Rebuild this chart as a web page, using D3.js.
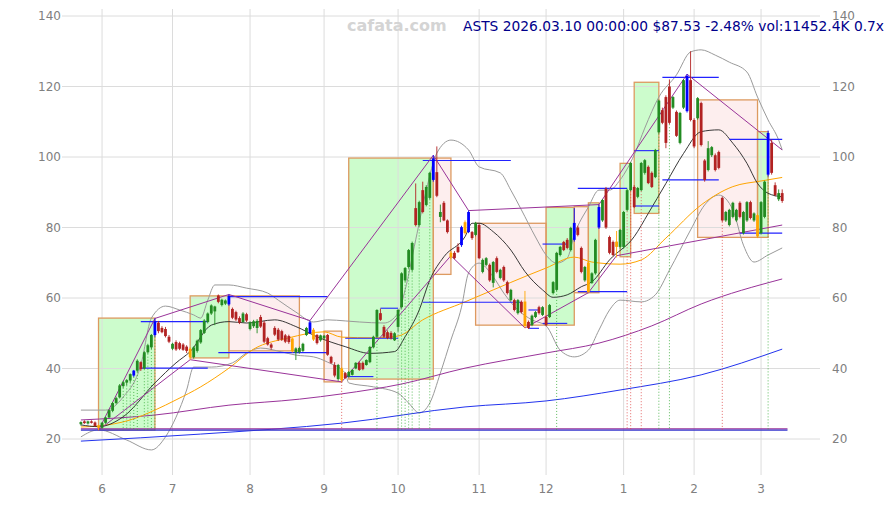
<!DOCTYPE html>
<html>
<head>
<meta charset="utf-8">
<script src="https://cdnjs.cloudflare.com/ajax/libs/d3/7.8.5/d3.min.js"></script>
<style>
  body { margin: 0; background: #fff; }
  svg { display: block; font-family: "DejaVu Sans", sans-serif; }
</style>
</head>
<body>
<div id="chart"></div>
<script>
// daily candles, 2025-05-22 .. 2026-03-10 : [open, high, low, close]
var ohlc = [
  [24.2,25.0,23.8,24.8],[25.0,25.3,24.3,24.5],[24.4,25.2,24.1,25.0],[25.0,25.3,24.4,24.6],[24.7,25.0,23.5,23.7],
  [23.8,24.0,22.5,23.2],[23.2,24.8,22.9,24.6],[24.6,26.3,24.3,26.1],[26.1,28.4,25.9,28.2],[28.0,30.5,27.6,30.2],
  [30.2,32.0,29.8,31.6],[31.8,35.6,31.5,35.2],[35.0,36.5,34.5,36.1],[36.0,37.0,35.2,36.7],[36.6,38.6,36.0,38.4],
  [38.0,39.6,37.6,39.4],[39.4,42.6,39.0,42.2],[41.8,42.0,39.3,39.8],[40.0,44.9,39.8,44.6],[44.6,47.0,44.2,46.6],
  [46.0,49.8,45.5,49.5],[49.5,54.2,49.0,53.3],[53.0,53.5,50.0,50.6],[51.5,52.0,50.0,50.3],[51.2,51.8,48.8,49.2],
  [49.0,49.5,47.2,47.6],[45.6,47.3,45.2,47.0],[47.5,48.0,45.0,45.4],[47.2,47.6,45.2,45.6],[46.8,47.2,45.0,45.3],
  [46.2,46.6,44.4,45.0],[45.6,46.0,42.5,43.2],[43.2,46.3,42.8,46.0],[45.0,48.2,44.5,47.9],[47.4,51.2,47.0,50.9],
  [50.1,54.0,49.8,53.6],[53.2,55.9,52.8,55.6],[55.6,58.2,55.2,57.9],[56.2,57.8,52.3,57.6],[60.7,61.0,58.5,58.9],
  [58.0,59.8,57.6,59.5],[58.4,59.6,58.0,59.3],[58.2,61.0,57.8,60.6],[56.9,57.3,54.0,54.4],[56.0,56.4,53.5,53.9],
  [54.3,54.8,52.6,53.0],[53.2,56.0,53.0,55.6],[55.4,55.8,53.2,53.6],[51.2,53.4,50.8,53.1],[52.0,53.8,51.5,53.4],
  [51.5,54.0,50.0,53.5],[54.6,55.2,51.5,51.9],[53.0,53.5,47.2,47.6],[48.6,49.0,46.5,46.8],[46.8,47.2,45.3,45.9],
  [51.5,52.0,49.2,49.6],[51.0,51.5,47.8,48.2],[50.6,51.0,47.8,48.2],[49.4,49.8,47.2,47.6],[49.2,49.6,47.0,47.5],
  [48.5,48.8,44.5,44.9],[44.5,46.0,42.4,45.7],[44.6,46.2,44.2,45.8],[45.0,47.3,44.7,47.0],[49.5,51.8,49.2,51.5],
  [50.0,53.6,49.8,53.1],[51.0,51.5,47.8,48.2],[49.5,49.8,46.8,47.2],[48.0,49.6,47.6,49.4],[48.6,49.5,48.3,49.3],
  [49.5,49.8,43.6,43.9],[43.3,43.6,41.3,41.6],[41.0,41.8,37.5,38.0],[37.0,41.3,36.5,41.0],[40.0,40.4,36.2,36.7],
  [38.7,39.0,37.0,37.3],[37.7,39.3,37.5,39.0],[38.2,39.8,38.0,39.6],[40.0,41.8,39.8,41.6],[41.6,42.0,39.3,39.6],
  [41.6,42.0,39.5,39.8],[41.0,42.6,40.8,42.4],[41.8,46.4,41.5,46.1],[46.0,49.3,45.7,49.0],[49.0,56.8,48.7,56.6],
  [55.7,57.0,53.5,53.8],[51.8,52.3,48.7,49.0],[50.3,50.8,48.3,48.6],[50.1,50.6,48.2,48.5],[48.0,50.3,47.8,50.0],
  [51.8,56.9,50.5,56.6],[57.4,67.3,57.0,67.0],[65.0,68.8,64.6,68.5],[68.8,73.9,68.4,73.6],[68.0,76.0,67.5,75.6],
  [85.5,92.5,80.3,80.7],[80.7,87.6,80.3,87.2],[90.6,93.0,84.0,84.4],[86.4,92.0,86.0,91.5],[88.4,95.8,88.0,95.5],
  [93.5,100.5,93.0,99.6],[95.7,103.0,88.6,89.0],[83.0,86.5,81.5,84.4],[87.0,87.5,81.8,82.0],[82.0,82.3,78.3,78.7],
  [72.8,73.3,71.0,71.5],[72.8,73.3,71.0,71.3],[74.5,75.5,72.8,73.0],[75.0,80.5,74.5,80.1],[81.5,82.0,78.0,78.4],
  [78.7,84.8,78.4,84.4],[78.7,79.0,76.5,77.0],[77.9,81.6,77.5,81.3],[80.7,81.0,71.0,71.3],[67.4,71.2,67.0,70.8],
  [69.4,71.6,69.0,71.3],[69.4,69.8,64.6,65.0],[64.3,70.5,63.0,70.2],[71.3,71.8,67.0,67.4],[65.7,68.3,65.3,68.0],
  [68.8,69.2,64.6,65.0],[64.5,64.9,61.0,61.4],[59.4,62.6,59.0,62.3],[59.4,59.8,56.2,56.6],[55.7,59.7,55.3,59.4],
  [58.9,59.3,55.6,56.0],[59.0,62.0,51.5,52.0],[53.2,53.6,51.2,51.5],[52.3,55.3,52.0,55.0],[54.6,56.3,54.3,56.0],
  [57.4,57.8,55.3,55.7],[55.2,57.7,54.9,57.4],[54.6,55.0,52.0,52.3],[54.6,58.3,54.3,58.0],[61.4,64.8,61.0,64.5],
  [62.3,73.1,62.0,72.8],[72.2,74.8,71.8,74.5],[75.9,76.2,73.3,73.6],[76.5,77.0,73.8,74.2],[73.6,80.2,73.2,79.9],
  [76.5,85.5,76.0,81.3],[80.0,80.5,77.5,77.9],[74.2,74.6,67.0,67.4],[65.0,69.1,64.6,68.8],[70.0,70.5,61.5,61.7],
  [64.3,67.3,64.0,67.0],[67.0,76.8,66.6,76.5],[80.0,86.5,79.6,85.8],[82.0,88.1,81.6,87.8],[91.0,91.5,79.6,80.0],
  [77.3,77.7,72.4,72.8],[75.9,76.3,71.8,72.2],[76.0,79.0,71.5,74.5],[74.5,79.6,74.0,79.3],[74.5,84.7,74.0,84.4],
  [85.0,91.0,84.6,90.6],[90.6,98.6,90.3,98.3],[91.5,92.0,85.5,85.8],[88.7,91.5,88.3,91.2],[90.6,98.6,90.3,98.3],
  [95.5,99.4,95.0,99.1],[97.2,97.6,92.3,92.6],[95.5,95.9,91.2,91.5],[94.3,102.3,94.0,102.0],[107.0,116.3,106.6,116.0],
  [113.3,114.0,109.3,109.7],[117.0,117.5,102.5,104.0],[120.0,122.0,109.3,109.7],[114.0,117.3,113.6,117.0],[112.8,113.2,105.7,106.0],
  [104.0,112.8,103.6,112.5],[114.0,122.1,113.6,121.8],[113.0,123.5,112.6,123.0],[121.8,130.0,110.1,110.5],[110.5,111.0,102.5,103.0],
  [111.0,117.0,110.6,116.7],[115.3,115.7,103.0,103.4],[99.0,99.4,93.0,93.5],[96.3,104.5,95.9,102.5],[100.5,103.1,100.0,102.8],
  [100.5,101.0,95.9,96.3],[101.4,101.8,96.5,96.9],[88.4,88.8,81.6,82.0],[82.0,84.7,81.6,84.4],[80.7,85.3,80.3,85.0],
  [83.0,87.3,82.6,87.0],[82.0,85.3,81.6,85.0],[87.0,87.4,82.6,83.0],[78.4,84.7,78.0,84.4],[82.0,87.5,81.6,87.2],
  [87.2,87.6,82.3,82.7],[82.0,84.3,81.6,84.0],[83.5,84.0,77.0,77.5],[78.4,87.5,78.0,87.2],[83.0,93.3,82.6,93.0],
  [95.0,107.5,94.5,106.8],[104.0,105.0,95.0,95.5],[92.0,92.8,88.8,89.2],[88.0,90.8,87.5,89.76],[89.76,90.8,87.0,87.53]
];

// pivot candles drawn in blue (highs) and orange (lows)
var pivotHigh = [15, 21, 42, 65, 100, 108, 110, 140, 147, 172, 195];
var pivotLow = [5, 31, 60, 66, 74, 105, 109, 126, 144, 152, 192];

// month ticks (index of first trading day) and labels
var monthIdx = [6, 26, 48, 69, 90, 113, 132, 154, 174, 193];
var monthLabels = ["6", "7", "8", "9", "10", "11", "12", "1", "2", "3"];
var priceTicks = [20, 40, 60, 80, 100, 120, 140];

// moving averages / bands: [index, value]
var ma20 = [[0,24.0],[5,23.5],[12,26.3],[21,35.9],[27,41.6],[31,44.8],[37,52.3],[42,53.3],[47,52.9],[55,53.8],
  [61,51.9],[67,49.0],[75,46.2],[82,44.3],[89,44.8],[92,49.0],[96,56.6],[99,65.1],[103,71.7],[109,77.4],
  [111,81.2],[113,81.2],[117,78.8],[122,73.6],[126,67.5],[131,62.3],[134,60.2],[138,60.9],[142,63.2],[145,64.6],
  [150,70.8],[157,77.4],[161,84.0],[166,92.5],[171,101.0],[176,107.2],[181,107.7],[185,103.9],[189,98.2],
  [192,92.5],[195,89.7],[199,88.7]];
var ma50 = [[0,23.4],[5,23.7],[14,25.4],[21,28.2],[27,31.1],[34,34.8],[42,40.1],[49,45.5],[59,48.7],[69,50.4],
  [74,48.9],[83,48.7],[90,49.2],[97,53.8],[109,58.9],[117,62.3],[127,66.5],[132,68.5],[140,71.6],[145,70.2],
  [153,69.6],[159,70.8],[166,77.0],[176,86.4],[185,91.6],[193,93.2],[199,94.2]];
var ma100 = [[0,25.4],[21,26.8],[42,29.6],[62,31.3],[74,32.8],[91,35.6],[109,40.1],[132,44.4],[147,47.2],
  [162,52.1],[176,58.3],[199,65.4]];
var ma200 = [[0,19.4],[34,21.4],[74,24.5],[109,29.1],[132,30.8],[153,33.9],[176,38.2],[199,45.5]];
var bandUp = [[0,28.2],[7,28.2],[12,31.9],[17,41.0],[20,54.3],[24,57.7],[28,56.6],[32,55.2],[34,54.3],[36,59.4],
  [38,63.7],[42,63.7],[47,62.8],[53,61.4],[56,59.4],[61,56.0],[66,53.2],[70,53.8],[75,53.5],[79,53.2],
  [86,52.9],[90,55.7],[92,62.3],[95,76.5],[98,90.6],[101,101.1],[105,104.8],[110,102.0],[113,97.2],[119,95.5],
  [122,90.6],[125,85.0],[129,77.3],[132,72.2],[135,69.9],[138,71.3],[140,77.9],[144,85.8],[147,90.6],[150,90.6],
  [153,93.5],[157,100.6],[160,108.2],[164,117.0],[169,123.3],[173,129.8],[176,130.4],[180,128.9],[184,126.9],
  [189,124.1],[192,117.0],[195,110.5],[198,104.8],[199,102.0]];
var bandLow = [[0,20.6],[5,22.6],[13,19.7],[20,16.9],[24,20.6],[27,26.2],[30,33.9],[32,40.4],[37,40.4],[43,41.6],
  [47,44.4],[51,45.8],[57,44.7],[61,43.8],[66,43.3],[70,41.8],[75,38.7],[76,35.9],[83,34.8],[90,33.0],
  [93,30.2],[96,27.4],[99,30.2],[102,38.7],[105,48.1],[108,57.4],[110,67.1],[113,69.9],[117,66.0],[120,61.4],
  [124,56.6],[128,53.8],[132,52.1],[136,45.2],[140,43.3],[144,45.2],[147,50.9],[150,56.6],[153,59.4],[159,58.9],
  [163,60.9],[167,67.9],[173,79.3],[177,86.4],[181,89.2],[185,85.0],[188,75.0],[191,70.2],[195,72.2],[199,74.2]];

// swing boxes: [start, end, top, bottom, direction]
var boxes = [
  [5,21,54.3,22.55,"up"],[31,42,60.6,43.0,"up"],[42,62,60.6,45.0,"down"],[69,74,50.6,36.2,"down"],
  [76,100,99.7,37.0,"up"],[100,105,99.7,66.7,"down"],[112,132,81.2,52.3,"down"],[132,140,85.7,52.3,"up"],
  [140,144,85.9,61.5,"down"],[144,147,87.0,61.5,"up"],[153,156,98.2,71.7,"up"],[157,164,121.2,84.0,"up"],
  [175,192,116.2,77.2,"down"],[192,195,107.2,77.2,"up"]
];

// pivot lines: first leg, highs chain, lows chain
var firstLeg = [[5,22.5],[21,54.2]];
var highLine = [[21,54.2],[42,61.0],[65,53.6],[100,100.5],[110,84.8],[147,86.5],[172,123.5],[199,102.0]];
var lowLine = [[5,22.5],[31,42.5],[74,36.2],[105,72.0],[126,51.5],[144,61.5],[152,72.0],[199,80.7]];

// support / resistance segments: [from, to, level]
var levels = [[17,36,53.3],[17,36,40.1],[39,70,44.5],[42,70,60.4],[75,83,37.7],[75,90,48.6],[85,90,57.1],
  [97,122,99.0],[97,125,58.8],[131,138,75.3],[131,138,52.8],[127,130,51.4],[127,130,56.6],[141,155,61.8],
  [141,155,91.1],[157,164,101.8],[157,164,86.1],[165,181,122.6],[165,181,93.5],[184,199,105.0],[187,199,78.4]];

// dotted drop lines from candle lows
var dropGreen = [12,13,14,15,16,18,19,20,21,84,90,91,92,93,94,96,99,135,164,167,195];
var dropRed = [74,155,156,159,182];
var floorLevel = 22.5;

var W = 894, H = 505;
var plot = {left: 62, right: 820, top: 9, bottom: 475};

var x = d3.scaleLinear().domain([0, 199]).range([80.9, 782.2]);
var y = d3.scaleLinear().domain([20, 140]).range([439, 16]);

var svg = d3.select("#chart").append("svg")
  .attr("width", W).attr("height", H);

var ptLine = d3.line().x(function(d){ return x(d[0]); }).y(function(d){ return y(d[1]); });
var smooth = d3.line().curve(d3.curveMonotoneX)
  .x(function(d){ return x(d[0]); }).y(function(d){ return y(d[1]); });

// box fills go first so the grid shows through
svg.append("g").selectAll("rect").data(boxes).enter().append("rect")
  .attr("x", function(d){ return x(d[0]); })
  .attr("y", function(d){ return y(d[2]); })
  .attr("width", function(d){ return x(d[1]) - x(d[0]); })
  .attr("height", function(d){ return y(d[3]) - y(d[2]); })
  .style("fill", function(d){ return d[4] == "up" ? "#ccfccc" : "#fdeeee"; });

// grid
var grid = svg.append("g").style("stroke", "#dcdcdc").style("stroke-width", 1);
grid.selectAll(".gy").data(priceTicks).enter().append("line")
  .attr("x1", plot.left).attr("x2", plot.right)
  .attr("y1", function(d){ return y(d); }).attr("y2", function(d){ return y(d); });
grid.selectAll(".gx").data(monthIdx).enter().append("line")
  .attr("x1", function(d){ return x(d); }).attr("x2", function(d){ return x(d); })
  .attr("y1", plot.top).attr("y2", plot.bottom);

// box borders
svg.append("g").selectAll("rect").data(boxes).enter().append("rect")
  .attr("x", function(d){ return x(d[0]); })
  .attr("y", function(d){ return y(d[2]); })
  .attr("width", function(d){ return x(d[1]) - x(d[0]); })
  .attr("height", function(d){ return y(d[3]) - y(d[2]); })
  .style("fill", "none").style("stroke", "#dd9a60").style("stroke-width", 1.3);

// bands and averages
var lines = [
  [bandUp, "#9a9a9a", 1], [bandLow, "#9a9a9a", 1],
  [ma200, "#2233ee", 1], [ma100, "#993399", 1],
  [ma50, "#ffa500", 1], [ma20, "#222222", 0.9]
];
lines.forEach(function(l){
  svg.append("path").datum(l[0]).attr("d", smooth)
    .style("fill", "none").style("stroke", l[1]).style("stroke-width", l[2]);
});

// floor lines along the lowest low
svg.append("line")
  .attr("x1", x(0)).attr("x2", x(200.5))
  .attr("y1", y(floorLevel + 0.4)).attr("y2", y(floorLevel + 0.4))
  .style("stroke", "#993399").style("stroke-width", 1.3);
svg.append("line")
  .attr("x1", x(0)).attr("x2", x(200.5))
  .attr("y1", y(floorLevel)).attr("y2", y(floorLevel))
  .style("stroke", "#3333cc").style("stroke-width", 1.3);

// dotted drop lines
function drops(list, color) {
  svg.append("g").selectAll("line").data(list).enter().append("line")
    .attr("x1", function(d){ return x(d); }).attr("x2", function(d){ return x(d); })
    .attr("y1", function(d){ return y(ohlc[d][2]); })
    .attr("y2", y(floorLevel))
    .style("stroke", color).style("stroke-width", 0.8)
    .style("stroke-dasharray", "1,2");
}
drops(dropGreen, "#33aa33");
drops(dropRed, "#dd4444");

// support / resistance
svg.append("g").selectAll("line").data(levels).enter().append("line")
  .attr("x1", function(d){ return x(d[0]); }).attr("x2", function(d){ return x(d[1]); })
  .attr("y1", function(d){ return y(d[2]); }).attr("y2", function(d){ return y(d[2]); })
  .style("stroke", "#2222ff").style("stroke-width", 1.1);

// pivot lines
[firstLeg, highLine, lowLine].forEach(function(p){
  svg.append("path").datum(p).attr("d", ptLine)
    .style("fill", "none").style("stroke", "#993399").style("stroke-width", 1);
});

// candles
var candleColor = function(d, i){
  if (pivotHigh.indexOf(i) >= 0) return "#0000ff";
  if (pivotLow.indexOf(i) >= 0) return "#ffa500";
  return d[3] >= d[0] ? "#228b22" : "#b22222";
};
var bw = 2.8;
var cg = svg.append("g");
ohlc.forEach(function(d, i){
  var c = candleColor(d, i);
  cg.append("line")
    .attr("x1", x(i)).attr("x2", x(i))
    .attr("y1", y(d[1])).attr("y2", y(d[2]))
    .style("stroke", c).style("stroke-width", 0.9);
  var top = y(Math.max(d[0], d[3])), bot = y(Math.min(d[0], d[3]));
  cg.append("rect")
    .attr("x", x(i) - bw/2).attr("y", top)
    .attr("width", bw).attr("height", Math.max(1, bot - top))
    .style("fill", c);
});

// axis labels
var lab = svg.append("g").style("fill", "#808080").style("font-size", "12px");
lab.selectAll(".yl").data(priceTicks).enter().append("text")
  .attr("x", plot.left - 1).attr("y", function(d){ return y(d); })
  .attr("dy", "0.35em").attr("text-anchor", "end")
  .text(function(d){ return d; });
lab.selectAll(".yr").data(priceTicks).enter().append("text")
  .attr("x", plot.right + 12).attr("y", function(d){ return y(d); })
  .attr("dy", "0.35em").attr("text-anchor", "start")
  .text(function(d){ return d; });
lab.selectAll(".xl").data(monthIdx).enter().append("text")
  .attr("x", function(d){ return x(d); }).attr("y", 493)
  .attr("text-anchor", "middle")
  .text(function(d, i){ return monthLabels[i]; });

// watermark + title
svg.append("text").attr("x", 347).attr("y", 31)
  .style("font-size", "16px").style("font-weight", "bold").style("fill", "#d4d4d4")
  .text("cafata.com");
svg.append("text").attr("x", 463).attr("y", 31)
  .style("font-size", "13.8px").style("fill", "#00008b")
  .text("ASTS 2026.03.10 00:00:00 $87.53 -2.48% vol:11452.4K 0.7x");
</script>
</body>
</html>
